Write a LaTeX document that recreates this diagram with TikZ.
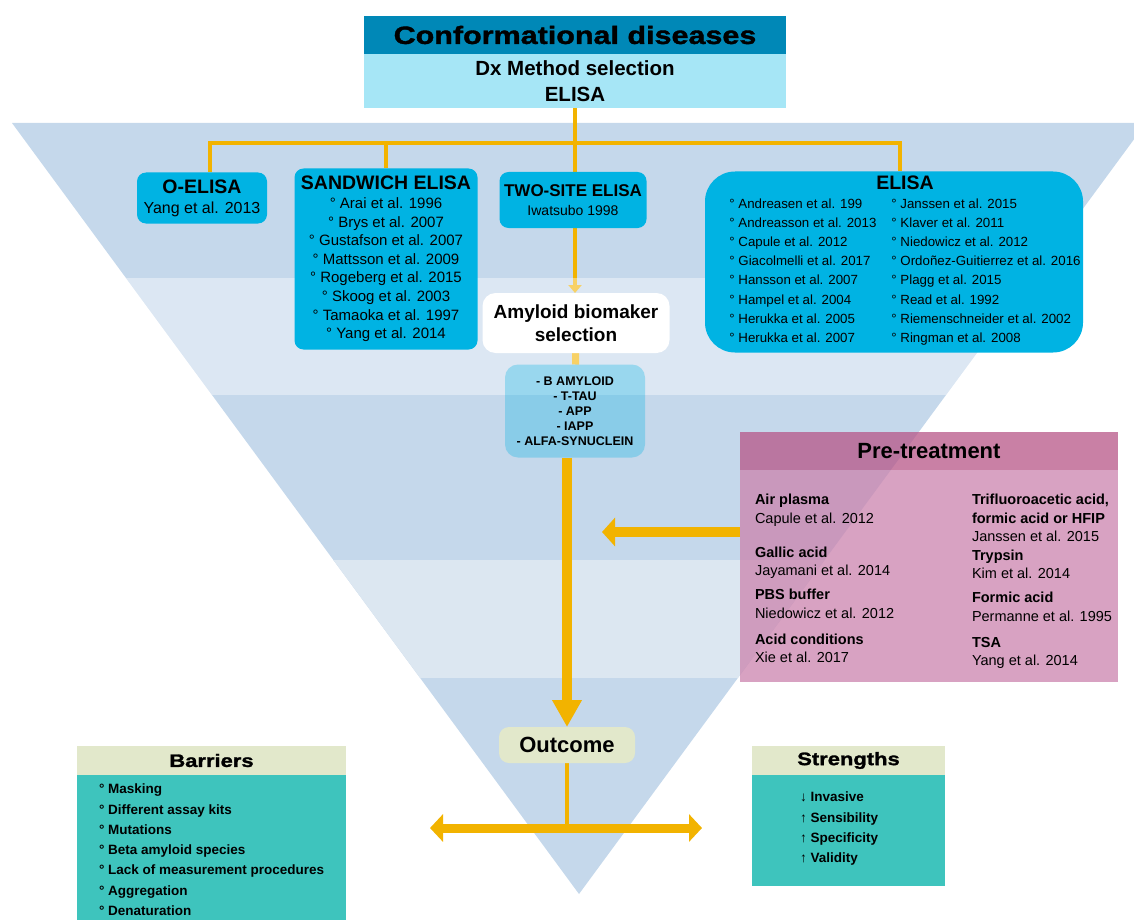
\documentclass[tikz,border=0pt]{standalone}
\usepackage{fontspec}
\setmainfont{Liberation Sans}
\newfontfamily\heavyfont[FakeBold=1.5,FakeStretch=1.22]{Liberation Sans Bold}
\usetikzlibrary{arrows.meta,positioning}

\definecolor{hdrblue}{HTML}{0088B7}
\definecolor{subcyan}{HTML}{A6E6F6}
\definecolor{boxcyan}{HTML}{00B3E3}
\definecolor{linkorange}{HTML}{F2B300}
\definecolor{funneldark}{HTML}{C5D8EB}
\definecolor{funnellight}{HTML}{DCE7F1}
\definecolor{pretpink}{HTML}{CB83AD}
\definecolor{prethead}{HTML}{B75687}
\definecolor{paleolive}{HTML}{E2E8CB}
\definecolor{barteal}{HTML}{3EC4BD}

\pgfdeclarelayer{funnel}
\pgfdeclarelayer{links}
\pgfsetlayers{funnel,links,main}

\newcommand\fsz[2]{\fontsize{#1}{#2}\selectfont}
\newcommand\hdrfont{\fsz{19.5}{21}\bfseries}

\begin{document}
\begin{tikzpicture}[x=1pt, y=-1pt,
     box/.style = {rectangle, inner sep=0pt, outer sep=0pt, align=center},
 citebox/.style = {box, fill=boxcyan, rounded corners=9pt},
plainbox/.style = {box, fill=paleolive},
    link/.style = {draw=linkorange, line width=4pt},
bigarrow/.style = {draw=linkorange, line width=10pt,
                   -{Triangle[width=28pt,length=13pt]}}
                    ]
\useasboundingbox (0,0) rectangle (1134,920);
% the funnel
\coordinate (ftl) at (12,123);
\coordinate (ftr) at (1146,123);
\coordinate (fapex) at (579,894);
\begin{pgfonlayer}{funnel}
\fill[funneldark] (ftl) -- (ftr) -- (fapex) -- cycle;
\begin{scope}
\clip (ftl) -- (ftr) -- (fapex) -- cycle;
\fill[funnellight] (0,560) rectangle (1134,678);
\end{scope}
\end{pgfonlayer}
% the title
\node (title) [box, fill=hdrblue, minimum width=422pt, minimum height=38pt,
               font=\heavyfont\fsz{25}{27}] at (575,35) {Conformational diseases};
\node (dxsel) [box, fill=subcyan, minimum width=422pt, minimum height=54pt,
               font=\fsz{20.5}{25.5}\bfseries, below=0pt of title]
               {Dx Method selection\\ELISA};
% the ELISA types
\node (oelisa) [citebox, minimum width=130pt, minimum height=51pt,
                font=\fsz{16}{20}] at (202,198)
                {{\hdrfont O-ELISA}\\Yang et al. 2013};
\node (sandwich) [citebox, minimum width=183pt, minimum height=181pt,
                  font=\fsz{15}{18.6}] at (386,259)
                {{\hdrfont SANDWICH ELISA}\\
                 ° Arai et al. 1996\\
                 ° Brys et al. 2007\\
                 ° Gustafson et al. 2007\\
                 ° Mattsson et al. 2009\\
                 ° Rogeberg et al. 2015\\
                 ° Skoog et al. 2003\\
                 ° Tamaoka et al. 1997\\
                 ° Yang et al. 2014};
\node (twosite) [citebox, minimum width=147pt, minimum height=56pt,
                 font=\fsz{14}{19}] at (573,200)
                {{\fsz{17}{19}\bfseries TWO-SITE ELISA}\\Iwatsubo 1998};
\node (elisa) [citebox, rounded corners=30pt, minimum width=378pt,
               minimum height=181pt, font=\fsz{13.3}{19.2}] at (894,262)
                {\hspace*{22pt}{\hdrfont ELISA}\\[4pt]
                 \hspace*{22pt}\begin{tabular}{@{}l@{\hspace{15pt}}l@{}}
                 ° Andreasen et al. 199    & ° Janssen et al. 2015\\
                 ° Andreasson et al. 2013  & ° Klaver et al. 2011\\
                 ° Capule et al. 2012      & ° Niedowicz et al. 2012\\
                 ° Giacolmelli et al. 2017 & ° Ordoñez-Guitierrez et al. 2016\\
                 ° Hansson et al. 2007     & ° Plagg et al. 2015\\
                 ° Hampel et al. 2004      & ° Read et al. 1992\\
                 ° Herukka et al. 2005     & ° Riemenschneider et al. 2002\\
                 ° Herukka et al. 2007     & ° Ringman et al. 2008
                 \end{tabular}};
% the biomarkers
\node (amyloid) [box, fill=white, rounded corners=13pt, minimum width=187pt,
                 minimum height=60pt, font=\fsz{19}{23}\bfseries] at (576,323)
                {Amyloid biomaker\\selection};
\node (biolist) [box, fill=boxcyan, fill opacity=0.3, text opacity=1,
                 rounded corners=13pt, minimum width=140pt, minimum height=93pt,
                 font=\fsz{12.5}{15}\bfseries] at (575,411)
                {- B AMYLOID\\- T-TAU\\- APP\\- IAPP\\- ALFA-SYNUCLEIN};
% the pre-treatment panel
\node (prehead) [box, fill=prethead, fill opacity=0.75, text opacity=1,
                 minimum width=378pt, minimum height=38pt,
                 font=\fsz{22}{24}\bfseries] at (929,451) {Pre-treatment};
\node (prebody) [box, fill=pretpink, fill opacity=0.75, minimum width=378pt,
                 minimum height=212pt, below=0pt of prehead] {};
\node (preleft) [box, align=left, anchor=north west, font=\fsz{14.5}{18.5}]
                at (755,494)
                {\textbf{Air plasma}\\Capule et al. 2012\\[15.5pt]
                 \textbf{Gallic acid}\\Jayamani et al. 2014\\[5.5pt]
                 \textbf{PBS buffer}\\Niedowicz et al. 2012\\[7.5pt]
                 \textbf{Acid conditions}\\Xie et al. 2017};
\node (preright) [box, align=left, anchor=north west, font=\fsz{14.5}{18.5}]
                at (972,494)
                {\textbf{Trifluoroacetic acid,}\\\textbf{formic acid or HFIP}\\
                 Janssen et al. 2015\\\textbf{Trypsin}\\Kim et al. 2014\\[5.5pt]
                 \textbf{Formic acid}\\Permanne et al. 1995\\[7.5pt]
                 \textbf{TSA}\\Yang et al. 2014};
% outcome, barriers and strengths
\node (outcome) [plainbox, rounded corners=10pt, minimum width=136pt,
                 minimum height=36pt, font=\fsz{22}{24}\bfseries] at (567,745)
                {Outcome};
\node (barhead) [plainbox, minimum width=269pt, minimum height=29pt,
                 font=\heavyfont\fsz{18}{20}] at (211.5,760.5) {Barriers};
\node (barbody) [box, fill=barteal, minimum width=269pt, minimum height=150pt,
                 below=0pt of barhead] {};
\node (barlist) [box, align=left, anchor=north west,
                 font=\fsz{13.5}{20.3}\bfseries] at (99,784)
                {° Masking\\° Different assay kits\\° Mutations\\
                 ° Beta amyloid species\\° Lack of measurement procedures\\
                 ° Aggregation\\° Denaturation};
\node (strhead) [plainbox, minimum width=193pt, minimum height=29pt,
                 font=\heavyfont\fsz{18}{20}] at (848.5,760.5) {Strengths};
\node (strbody) [box, fill=barteal, minimum width=193pt, minimum height=111pt,
                 below=0pt of strhead] {};
\node (strlist) [box, align=left, anchor=north west,
                 font=\fsz{13.5}{20.3}\bfseries] at (800,792)
                {↓ Invasive\\↑ Sensibility\\↑ Specificity\\↑ Validity};
% connectors
\coordinate (hub) at (575,143);
\coordinate (pretip) at (602,532);
\coordinate (split) at (567,828);
\coordinate (barend) at (430,828);
\coordinate (strend) at (702,828);
\begin{pgfonlayer}{links}
\draw[link] (dxsel.south) -- (hub);
\draw[link] (hub) -| ([xshift=8pt]oelisa.north);
\draw[link] (hub) -| (sandwich.north);
\draw[link] (hub) -| ([xshift=6pt]elisa.north);
\draw[link] (hub) -- (hub |- twosite.north);
\draw[link, -{Triangle[width=13pt,length=8pt]}] (hub |- twosite.south)
                                              -- (hub |- amyloid.north);
\draw[draw=linkorange, line width=7pt] (amyloid) -- (biolist);
\draw[bigarrow, -{Triangle[width=28pt,length=27pt]}]
      (outcome.north |- biolist.south) -- (outcome.north);
\draw[bigarrow] (pretip -| prebody.west) -- (pretip);
\draw[link] (outcome.south) -- (split);
\draw[draw=linkorange, line width=9pt,
      {Triangle[width=27pt,length=13pt]}-{Triangle[width=27pt,length=13pt]}]
      (barend) -- (strend);
% the pale band lies over the arrows
\begin{scope}
\clip (ftl) -- (ftr) -- (fapex) -- cycle;
\fill[white, opacity=0.4] (0,278) rectangle (1134,395);
\end{scope}
\end{pgfonlayer}
\end{tikzpicture}
\end{document}
